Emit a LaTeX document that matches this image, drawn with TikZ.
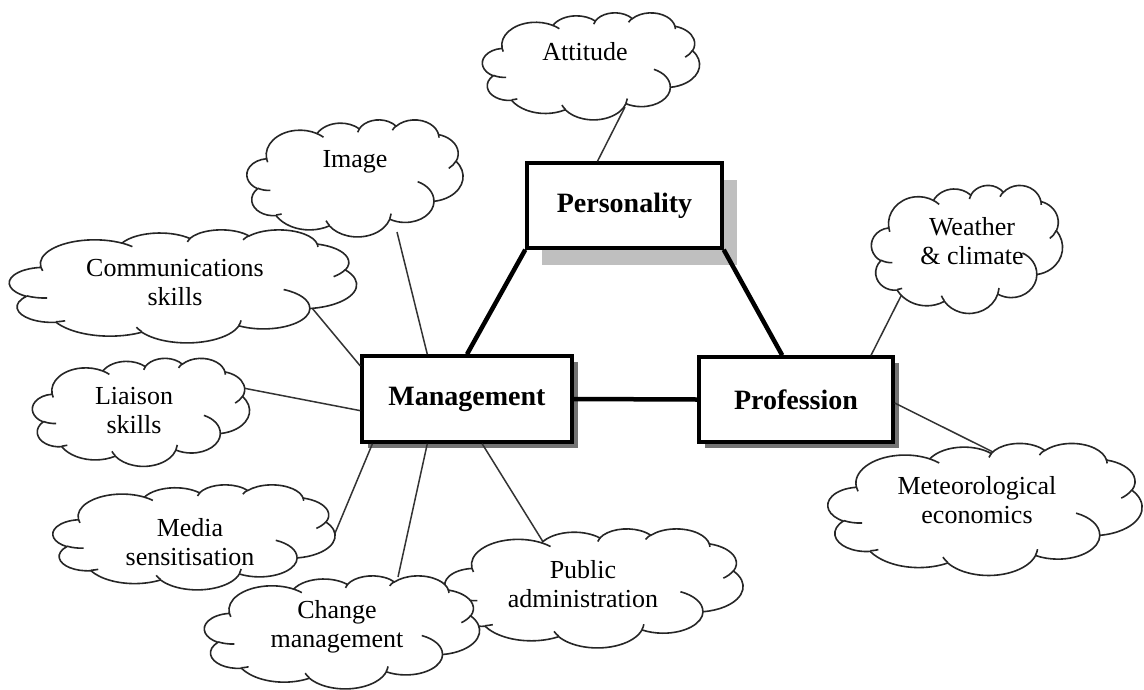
\documentclass[tikz,border=0pt]{standalone}
\usepackage{fontspec}
\setmainfont{Liberation Serif}
\usetikzlibrary{shadows,calc}
% one elliptical arc in the Office cloud geometry: x radius, y radius, start angle, sweep (degrees)
\newcommand\oarc[4]{\pgfextra{%
    \pgfmathparse{atan2((#1)*sin(#3),(#2)*cos(#3))}\xdef\oaS{\pgfmathresult}%
    \pgfmathparse{atan2((#1)*sin(#3+#4),(#2)*cos(#3+#4))}\xdef\oaE{\pgfmathresult}%
    \pgfmathparse{ifthenelse(#4>0,ifthenelse(\oaE<\oaS,\oaE+360,\oaE),ifthenelse(\oaE>\oaS,\oaE-360,\oaE))}\xdef\oaE{\pgfmathresult}%
  } arc[x radius=#1, y radius=#2, start angle=\oaS, end angle=\oaE]}
% Office-style cloud: centre x, centre y, width, height
\newcommand\wcloud[4]{%
  \begin{scope}[shift={(#1-#3/2,#2-#4/2)}, xscale=#3/43.2, yscale=#4/43.2]
    \filldraw[cloudline, fill=white] (3.9,14.37)
      \oarc{6.753}{9.19}{-190.4875}{123.7805}
      \oarc{5.333}{7.267}{-144.1024}{89.9452}
      \oarc{4.365}{5.945}{-145.8079}{99.7230}
      \oarc{4.857}{6.595}{-130.9861}{117.2417}
      \oarc{5.333}{7.273}{-78.7089}{109.0269}
      \oarc{6.775}{9.22}{-46.2673}{130.2690}
      \oarc{5.785}{7.867}{0.6250}{114.0333}
      \oarc{6.752}{9.215}{22.4516}{115.1726}
      \oarc{7.72}{10.543}{66.2426}{75.7110}
      \oarc{4.36}{5.918}{-274.9421}{146.7356}
      \oarc{4.345}{5.945}{-246.8285}{152.5189} -- cycle;
    \draw[cloudline]
      (4.693,26.177) \oarc{4.345}{5.945}{86.7420}{26.4295}
      (6.928,34.899) \oarc{4.36}{5.918}{73.6105}{11.4475}
      (16.478,39.09) \oarc{6.752}{9.215}{137.6242}{14.0811}
      (28.827,34.751) \oarc{6.752}{9.215}{6.4533}{15.9984}
      (34.129,22.954) \oarc{5.785}{7.867}{-70.2924}{70.9174}
      (41.798,15.354) \oarc{5.333}{7.273}{30.3180}{27.7515}
      (38.324,5.426) \oarc{4.857}{6.595}{-13.7443}{14.8589}
      (29.078,3.952) \oarc{4.857}{6.595}{-149.1815}{18.1954}
      (22.141,4.72) \oarc{4.365}{5.945}{-163.4943}{17.6864}
      (14.0,5.192) \oarc{6.753}{9.19}{-66.7070}{12.3194}
      (4.127,15.789) \oarc{6.753}{9.19}{157.6544}{11.8582};
  \end{scope}}
\begin{document}
\begin{tikzpicture}[x=1pt,y=-1pt,
  cloudline/.style={draw=black!85, line width=1.6pt},
  ctext/.style={align=center, font=\fontsize{26}{29}\selectfont, inner sep=0pt},
  box/.style={draw, line width=3.5pt, fill=white, inner sep=0pt, font=\bfseries\fontsize{28}{32}\selectfont},
  bigshadow/.style={drop shadow={shadow xshift=15pt, shadow yshift=-17pt, fill=black!25, opacity=1}},
  smallshadow/.style={drop shadow={shadow xshift=6pt, shadow yshift=-6pt, fill=black!55, opacity=1}},
  thinline/.style={line width=1.5pt, black!80},
  thickline/.style={line width=4.5pt}]
\useasboundingbox (0,0) rectangle (1144,689);
\fill[white] (0,0) rectangle (1144,689);

% boxes
\node[box, bigshadow, minimum width=195, minimum height=85] (P) at (624.5,205.5) {Personality};
\node[box, smallshadow, minimum width=210, minimum height=86] (M) at (467,399) {Management};
\node[box, smallshadow, minimum width=194, minimum height=85] (R) at (796,399.5) {Profession};

% thick connectors
\draw[thickline] (P.south west) -- (M.north);
\draw[thickline] (P.south east) -- ($(R.north west)!0.43!(R.north east)$);
\draw[thickline] (M.east) -- (R.west);

% connector ends on the clouds
\coordinate (A) at (625,107);
\coordinate (I) at (397,232);
\coordinate (C) at (312,308);
\coordinate (L) at (243,388);
\coordinate (Me) at (333,538);
\coordinate (Ch) at (398,577);
\coordinate (Pu) at (545,545);
\coordinate (W) at (903,292);
\coordinate (Mt) at (993,452);

% thin connectors
\draw[thinline] ($(P.north west)!0.364!(P.north east)$) -- (A);
\draw[thinline] ($(M.north west)!0.314!(M.north east)$) -- (I);
\draw[thinline] ($(M.north west)!0.13!(M.south west)$) -- (C);
\draw[thinline] ($(M.north west)!0.63!(M.south west)$) -- (L);
\draw[thinline] ($(M.south west)!0.057!(M.south east)$) -- (Me);
\draw[thinline] ($(M.south west)!0.314!(M.south east)$) -- (Ch);
\draw[thinline] ($(M.south west)!0.571!(M.south east)$) -- (Pu);
\draw[thinline] ($(R.north west)!0.88!(R.north east)$) -- (W);
\draw[thinline] ($(R.north east)!0.54!(R.south east)$) -- (Mt);

% clouds
\wcloud{591}{66}{217}{107}
\wcloud{355}{178}{216}{117}
\wcloud{183}{286}{347}{113}
\wcloud{141}{412}{217}{108}
\wcloud{194}{537}{282}{105}
\wcloud{594}{588}{298}{119}
\wcloud{342}{632}{275}{113}
\wcloud{967}{249}{191}{128}
\wcloud{985}{509}{314}{132}

% cloud texts
\node[ctext] (At) at (585,52) {Attitude};
\node[ctext] (It) at (355,162) {Image};
\node[ctext] (Ct) at (175,283) {Communications\\skills};
\node[ctext] (Lt) at (134,411) {Liaison\\skills};
\node[ctext] (Met) at (190,542) {Media\\sensitisation};
\node[ctext] (Put) at (583,584) {Public\\administration};
\node[ctext] (Cht) at (337,627) {Change\\management};
\node[ctext] (Wt) at (972,241) {Weather\\\&~climate};
\node[ctext] (Mtt) at (977,500) {Meteorological\\economics};
\end{tikzpicture}
\end{document}
